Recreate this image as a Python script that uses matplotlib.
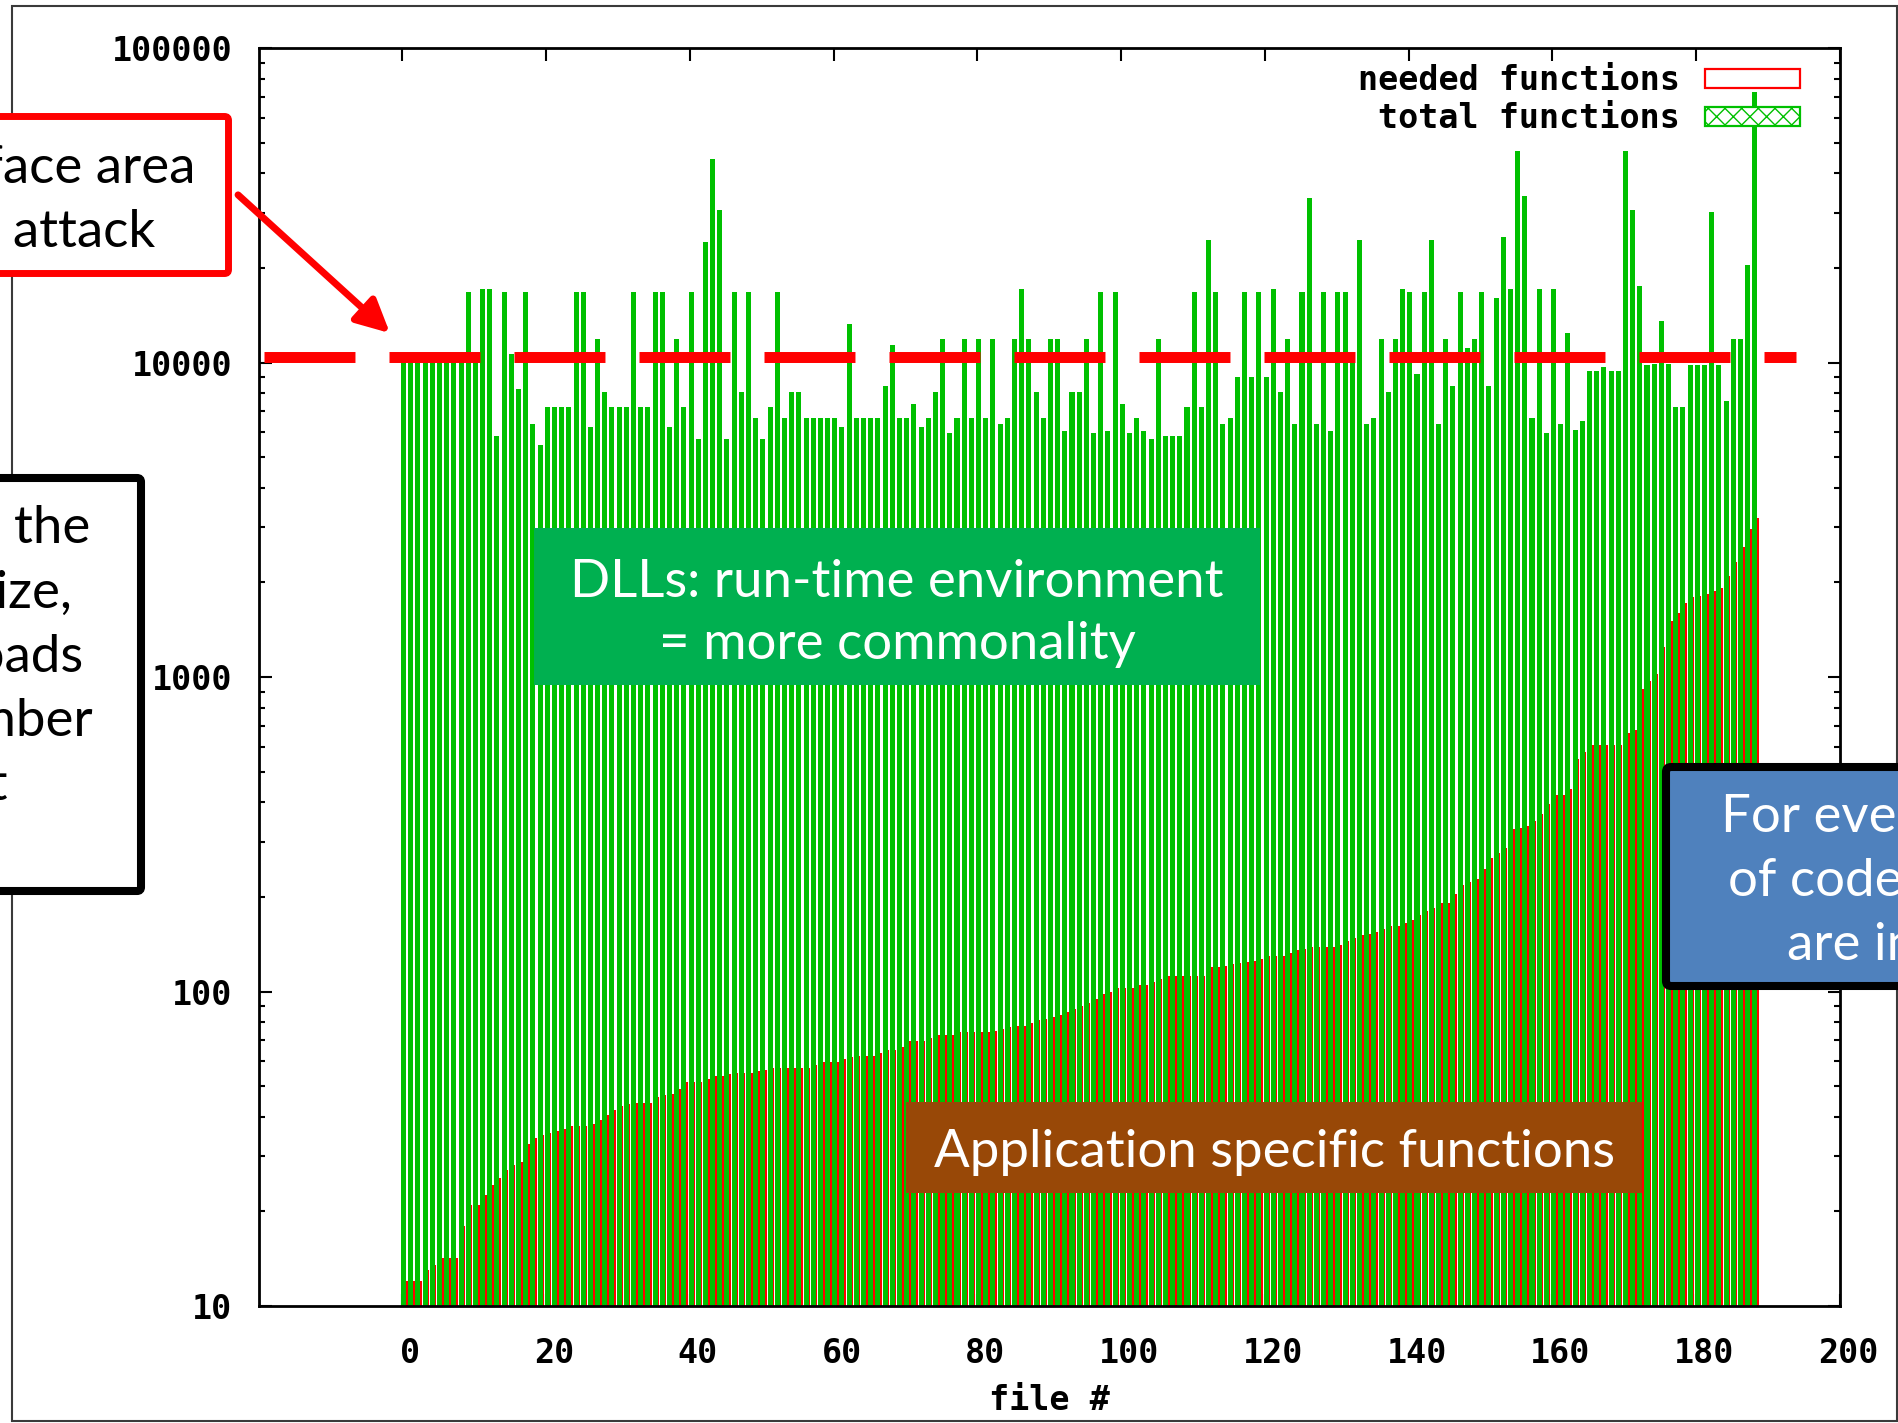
import numpy as np
import matplotlib
matplotlib.use('Agg')
import matplotlib.pyplot as plt
from matplotlib.patches import Rectangle, FancyBboxPatch, FancyArrowPatch
from matplotlib.transforms import Affine2D, ScaledTranslation
from matplotlib.ticker import NullLocator, LogLocator

# total functions exported by each file (green)
total_funcs = [
    10500, 10500, 10500, 10500, 10500, 10500, 10500, 10500, 10500, 16750,
    10500, 17100, 17100, 5860, 16750, 10660, 8260, 16750, 6400, 5480,
    7250, 7250, 7250, 7250, 16750, 16750, 6250, 11900, 8070, 7250,
    7250, 7250, 16750, 7250, 7250, 16750, 16750, 6250, 11900, 7250,
    16750, 5730, 24150, 44300, 30700, 5730, 16750, 8070, 16750, 6680,
    5730, 7250, 16750, 6680, 8070, 8070, 6680, 6680, 6680, 6680,
    6680, 6250, 13270, 6680, 6680, 6680, 6680, 8440, 11390, 6680,
    6680, 7400, 6250, 6680, 8070, 11900, 5990, 6680, 11900, 6680,
    11900, 6680, 11900, 6400, 6680, 11900, 17100, 11900, 8070, 6680,
    11900, 11900, 6060, 8070, 8070, 11900, 5990, 16750, 6060, 16750,
    7400, 5990, 6680, 6060, 5730, 11900, 5860, 5860, 5860, 7250,
    16750, 7250, 24650, 16750, 6400, 6680, 9010, 16750, 9010, 16750,
    9010, 17100, 8070, 11900, 6400, 16750, 33300, 6400, 16750, 6060,
    16750, 16750, 10500, 24650, 6400, 6680, 11900, 8090, 11900, 17100,
    16750, 9210, 16750, 24650, 6400, 11900, 8440, 16750, 11130, 11900,
    16750, 8440, 16030, 25200, 17100, 47200, 34000, 6680, 17100, 5990,
    17100, 6400, 12430, 6130, 6540, 9410, 9410, 9700, 9410, 9410,
    47200, 30700, 17500, 9800, 9900, 13550, 9900, 7240, 7240, 9850,
    9850, 9850, 30100, 9850, 7560, 11900, 11900, 20400, 72600,
]

# functions actually needed by the application (red)
needed_funcs = [
    12, 12, 12, 13, 13.5, 14.2, 14.2, 14.2, 17.9, 20.9,
    20.9, 22.5, 24.3, 25.5, 27, 28, 28.8, 32.8, 34.3, 35.1,
    35.5, 35.9, 36.5, 37.5, 37.5, 37.5, 38, 39, 40.6, 42,
    43.4, 44, 44.3, 44.3, 44.3, 46.3, 46.8, 47.3, 49, 51.6,
    51.6, 51.6, 52.7, 53.9, 53.9, 54.5, 55.1, 55.1, 55.1, 55.7,
    56.3, 57.1, 57.1, 57.1, 57.3, 57.3, 57.3, 58.5, 59.9, 59.9,
    59.9, 61.1, 62, 62.5, 62.5, 62.5, 64, 65.3, 65.3, 66.7,
    69.7, 69.7, 69.7, 71, 72.8, 72.8, 72.8, 74.4, 74.4, 74.4,
    74.4, 74.4, 75, 76, 77, 77.8, 77.8, 79.5, 81.3, 82,
    83, 84.5, 86.1, 88, 90, 92, 95, 98.2, 100, 102.6,
    102.6, 102.6, 105, 105, 107, 110, 112, 112, 112, 112,
    112, 112, 119.7, 119.7, 121, 122, 123, 124, 125.5, 127,
    130, 130, 130, 133, 135.5, 137, 138.5, 138.5, 138.5, 138.5,
    141, 144.6, 148, 151, 153, 154.5, 158, 161.5, 161.5, 165,
    168.6, 175, 180, 185, 191, 191, 205, 218, 223, 228,
    245, 265, 275, 287, 328, 332, 335, 350, 366, 395,
    423, 423, 442, 551, 580, 610, 610, 610, 610, 610,
    665, 680, 918, 970, 1024, 1250, 1507, 1600, 1720, 1796,
    1815, 1836, 1880, 1918, 2100, 2319, 2600, 2950, 3200,
]

x_ticks = [0, 20, 40, 60, 80, 100, 120, 140, 160, 180, 200]
y_ticks = [10, 100, 1000, 10000, 100000]
y_ticklabels = ['10', '100', '1000', '10000', '100000']
threshold = 10450          # the red dashed "surface area" line
threshold_span = (-19.2, 193.9)

W, H = 1899, 1423
fig = plt.figure(figsize=(W / 100, H / 100), dpi=100)
# pixel coords measured from the top-left corner
px = Affine2D().scale(1, -1).translate(0, H)

mono = dict(family='DejaVu Sans Mono', weight='bold', size=24)
slide = 'Lato'
fs = 38

ax = fig.add_axes([258.7 / W, 1 - 1306 / H, (1840 - 258.7) / W, (1306 - 48.3) / H])
ax.set_yscale('log')

files = np.arange(len(total_funcs))
ax.bar(files - 0.2, total_funcs, width=0.7, align='edge', color='#00c000',
       linewidth=0, antialiased=False, zorder=2)
ax.bar(files + 0.5, needed_funcs, width=0.22, align='edge', color='#ff0000',
       linewidth=0, antialiased=False, zorder=2)

ax.plot(threshold_span, [threshold, threshold], color='#ff0000', lw=7.9,
        dashes=(65.5 / 7.9, 24.5 / 7.9), dash_capstyle='butt', zorder=3)

ax.set_xlim(-20, 200)
ax.set_ylim(10, 100000)
ax.set_xticks(x_ticks)
ax.set_xticklabels([str(t) for t in x_ticks], fontdict=mono)
ax.set_yticks(y_ticks)
ax.set_yticklabels(y_ticklabels, fontdict=mono)
ax.xaxis.set_minor_locator(NullLocator())
ax.yaxis.set_minor_locator(LogLocator(base=10, subs=np.arange(2, 10)))
ax.tick_params(which='both', direction='in', top=True, right=True, width=1.5)
ax.tick_params(which='major', length=9)
ax.tick_params(which='minor', length=4.5)
ax.tick_params(axis='x', pad=22)
ax.tick_params(axis='y', pad=19)
for sp in ax.spines.values():
    sp.set_linewidth(2)
shift = ScaledTranslation(8 / 100, 0, fig.dpi_scale_trans)
for lab in ax.get_xticklabels():
    lab.set_transform(lab.get_transform() + shift)

fig.text(1049, 1401, 'file #', transform=px, ha='center', va='center', **mono)

# legend, gnuplot style
fig.text(1680, 80, 'needed functions', transform=px, ha='right', va='center', **mono)
fig.text(1680, 118, 'total functions', transform=px, ha='right', va='center', **mono)
fig.add_artist(Rectangle((1705, 69), 95, 19, transform=px, facecolor='white',
                         edgecolor='#ff0000', lw=1.6, zorder=4))
fig.add_artist(Rectangle((1705, 107), 95, 19, transform=px, facecolor='white',
                         edgecolor='#00c000', hatch='xx', lw=1.6, zorder=4))

# slide frame
fig.add_artist(Rectangle((12, 6), 1885, 1415, transform=px, fill=False,
                         edgecolor='#3a3a3a', lw=1.5, zorder=1))

# red callout + arrow
fig.add_artist(FancyBboxPatch((-150, 116.5), 378.5, 157, transform=px,
                              boxstyle='round,pad=0,rounding_size=4',
                              facecolor='white', edgecolor='#ff0000', lw=5, zorder=5))
fig.text(195, 183, 'Surface area', transform=px, ha='right', va='baseline',
         family=slide, size=fs, color='black', zorder=6)
fig.text(155, 247, 'of attack', transform=px, ha='right', va='baseline',
         family=slide, size=fs, color='black', zorder=6)
fig.add_artist(FancyArrowPatch((236, 193), (392, 335), transform=px,
                               arrowstyle='-|>,head_length=1.0,head_width=0.5',
                               mutation_scale=20, color='#ff0000', lw=5, zorder=6))

# black callout on the left
fig.add_artist(FancyBboxPatch((-60, 478), 201, 413, transform=px,
                              boxstyle='round,pad=0,rounding_size=4',
                              facecolor='white', edgecolor='black', lw=5.8, zorder=5))
black_lines = ['Because of the', 'large DLL size,', 'the OS loads', 'a large number',
               'of code that']
black_ends = [90, 72, 83, 93, 7]
for k, (s, xe) in enumerate(zip(black_lines, black_ends)):
    fig.text(xe, 543 + 64.3 * k, s, transform=px, ha='right', va='baseline',
             family=slide, size=fs, color='black', zorder=6)

# green label
fig.add_artist(Rectangle((534, 528), 726, 157, transform=px,
                         facecolor='#00b050', edgecolor='none', zorder=5))
fig.text(897, 597, 'DLLs: run-time environment', transform=px, ha='center',
         va='baseline', family=slide, size=fs, color='white', zorder=6)
fig.text(897, 659, '= more commonality', transform=px, ha='center',
         va='baseline', family=slide, size=fs, color='white', zorder=6)

# brown label
fig.add_artist(Rectangle((906, 1102), 736, 91, transform=px,
                         facecolor='#984807', edgecolor='none', zorder=5))
fig.text(1275, 1167, 'Application specific functions', transform=px, ha='center',
         va='baseline', family=slide, size=fs, color='white', zorder=6)

# blue callout on the right
fig.add_artist(FancyBboxPatch((1666, 767), 400, 219, transform=px,
                              boxstyle='round,pad=0,rounding_size=5',
                              facecolor='#4f81bd', edgecolor='black', lw=5.8, zorder=5))
blue_lines = ['For every function', 'of code needed, 100', 'are included']
blue_starts = [1721, 1728, 1787]
for k, (s, xs) in enumerate(zip(blue_lines, blue_starts)):
    fig.text(xs, 832 + 64 * k, s, transform=px, ha='left', va='baseline',
             family=slide, size=fs, color='white', zorder=6)

fig.savefig('out.png', dpi=100, facecolor='white')
